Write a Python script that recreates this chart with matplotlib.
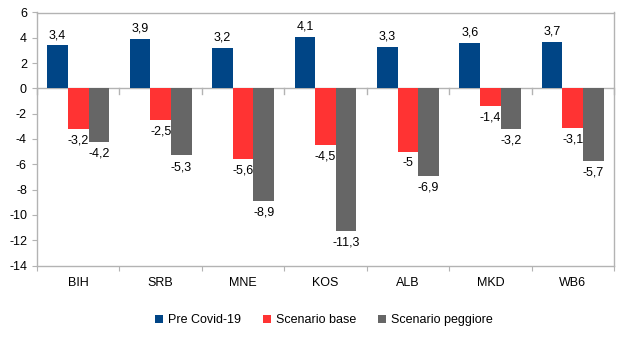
import matplotlib
matplotlib.use("Agg")
import matplotlib.pyplot as plt
import numpy as np
from matplotlib.patches import Patch

plt.rcParams['font.family'] = ['Liberation Sans', 'DejaVu Sans']
plt.rcParams['axes.unicode_minus'] = False

categories = ["BIH", "SRB", "MNE", "KOS", "ALB", "MKD", "WB6"]
pre_covid = [3.4, 3.9, 3.2, 4.1, 3.3, 3.6, 3.7]
scenario_base = [-3.2, -2.5, -5.6, -4.5, -5.0, -1.4, -3.1]
scenario_peggiore = [-4.2, -5.3, -8.9, -11.3, -6.9, -3.2, -5.7]
series_names = ["Pre Covid-19", "Scenario base", "Scenario peggiore"]
colors = ["#004586", "#ff3333", "#666666"]

FS = 9

fig = plt.figure(figsize=(6.31, 3.47), dpi=100)
top_px, bot_px = 12.5, 265.5
ax = fig.add_axes([37/631, (347-bot_px)/347, (614-37)/631, (bot_px-top_px)/347])

n = len(categories)
x = np.arange(n)
w = 0.25
data = [pre_covid, scenario_base, scenario_peggiore]

def fmt(v):
    return ("%g" % v).replace(".", ",")

for i, (vals, col) in enumerate(zip(data, colors)):
    pos = x + (i - 1) * w
    ax.bar(pos, vals, width=w, color=col, zorder=3)
    for p, v in zip(pos, vals):
        if v >= 0:
            ax.annotate(fmt(v), (p, v), xytext=(0, 3), textcoords="offset points",
                        ha="center", va="bottom", fontsize=FS, color="black")
        else:
            ax.annotate(fmt(v), (p, v), xytext=(0, -4), textcoords="offset points",
                        ha="center", va="top", fontsize=FS, color="black")

ax.set_xlim(-0.5, n - 0.5)
ax.set_ylim(-14, 6)
ax.set_yticks(np.arange(-14, 7, 2))
ax.set_yticklabels([str(t) for t in range(-14, 7, 2)])

gray = "#b3b3b3"
for s in ax.spines.values():
    s.set_color(gray)
    s.set_linewidth(1)

# zero line with boundary ticks
ax.axhline(0, color=gray, lw=1, zorder=2)
for b in np.arange(-0.5, n + 0.5, 1.0):
    ax.plot([b, b], [0, -0.45], color=gray, lw=1, zorder=2, clip_on=False)

ax.set_xticks(np.arange(-0.5, n, 1.0), minor=False)
ax.set_xticklabels([])
ax.set_xticks(x, minor=True)
ax.set_xticklabels(categories, minor=True)
ax.tick_params(axis='x', which='major', length=3.6, color=gray, direction='out')
ax.tick_params(axis='x', which='minor', length=0, pad=8, labelsize=FS)
ax.tick_params(axis='y', length=3.6, color=gray, direction='out', labelsize=FS, pad=3.6)

handles = [Patch(facecolor=c, edgecolor='none') for c in colors]
fig.legend(handles, series_names, loc="center", bbox_to_anchor=(324/631, (347-320)/347),
           ncol=3, frameon=False, fontsize=FS, handlelength=0.6, handleheight=0.6,
           handletextpad=0.4, columnspacing=1.8)

fig.savefig("out.png", dpi=100)
